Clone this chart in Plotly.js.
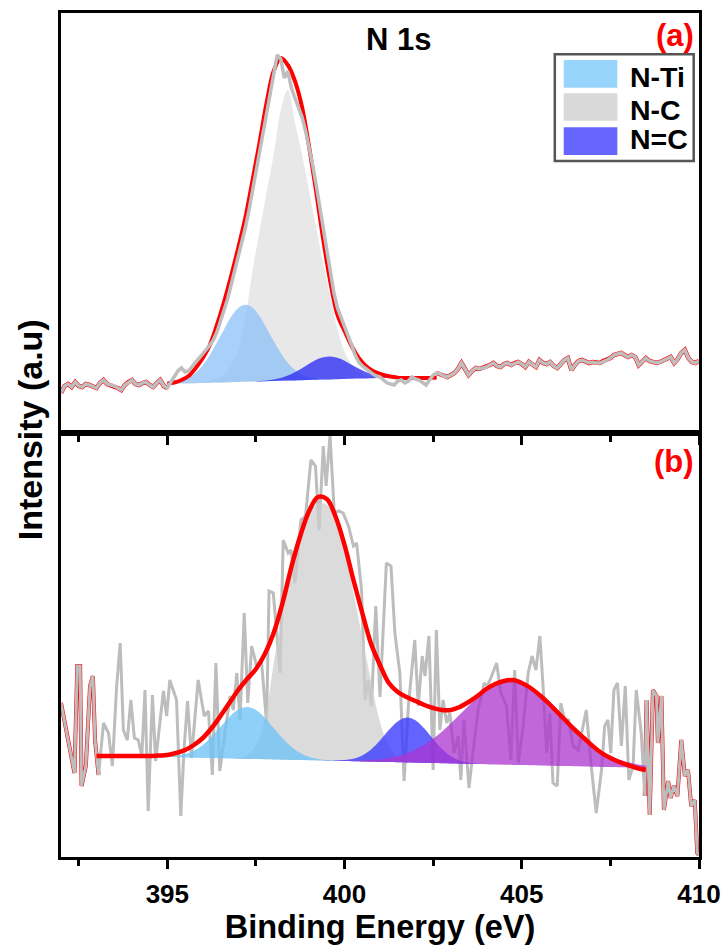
<!DOCTYPE html>
<html>
<head>
<meta charset="utf-8">
<script src="https://cdn.plot.ly/plotly-3.0.1.min.js"></script>
<style>html,body{margin:0;padding:0;background:#fff;}#chart{width:725px;height:945px;}</style>
</head>
<body>
<div id="chart"></div>
<script>
// ---------- Panel (a): raw spectrum, 392.0 .. 410.0 eV, 0.1 eV step ----------
const rawAStart = 392.0;
const rawAStep = 0.1;
const rawA = [
  40,47,49,46,51,47,46,49,48,46,
  45,50,53,49,48,47,45,43,48,51,
  53,49,48,50,51,48,46,50,53,47,
  45,51,56,62,65,61,62,67,71,75,
  79,84,88,93,101,112,122,134,148,162,
  176,190,205,222,242,262,282,302,322,342,
  362,378,374,355,362,345,335,325,316,302,
  286,268,248,226,203,180,158,140,125,116,
  108,98,88,78,71,67,64,61,59,57,
  56,53,50,49,48,52,53,50,52,56,
  54,53,51,48,53,58,60,59,57,56,
  58,60,64,70,64,58,62,65,64,65,
  66,68,70,67,66,69,70,68,70,71,
  69,66,71,68,66,73,70,69,71,67,
  65,69,73,75,63,68,72,73,71,70,
  71,70,70,72,73,75,78,79,80,78,
  76,78,76,68,72,75,72,71,70,71,
  73,75,76,70,74,80,83,75,71,70,
  72
];
// Panel (a) fit grid: 395.0 .. 402.6 eV, 0.2 eV step
const fitAStart = 395.0;
const fitAStep = 0.2;
const baseA = [49.0,49.2,49.4,49.6,49.8,50.0,50.2,50.4,50.6,50.8,51.0,51.2,51.4,51.6,51.8,52.0,52.2,52.4,52.6,52.8,53.0,53.2,53.4,53.6,53.8,54.0,54.2,54.4,54.6,54.8,55.0,55.2,55.4,55.6,55.8,56.0,56.2,56.4,56.6];
const envA = [49.5,50.5,53,57,65,75,88,108,131,157,185,215,252,290,330,362,375,368,352,326,286,241,193,151,118,102,87,75,67,62,59,57,56,55,55,55,55,55,55.5];
const nTiA = [0.6,1.3,2.8,5.7,10.4,17.7,27.8,40,53,65.4,74,77,74,65.4,53,40,27.8,17.7,10.4,5.7,2.8,1.3,0.6,0.2,0,0,0,0,0,0,0,0,0,0,0,0,0,0,0];
const nCA = [0,0,0,0,0.5,1,2,4,8,17,32,64,110,150,189,226,270,291,258,226,189,152,116,82,50,27,14,7,3,1.5,0.5,0,0,0,0,0,0,0,0];
const nDblCA = [0,0,0,0,0,0,0,0,0,0,0,0,0,0.3,0.6,1.5,2.8,5,8.2,12,16.2,20,22.4,23,21.4,18.2,14.1,10,6.5,3.8,2,1,0.5,0.2,0,0,0,0,0];

// ---------- Panel (b): raw spectrum ----------
const rawBX = [
  392.0,392.3,392.38,392.46,392.54,392.58,392.7,392.82,392.9,392.96,
  393.06,393.2,393.34,393.45,393.57,393.67,393.76,393.87,393.97,394.07,
  394.18,394.28,394.37,394.46,394.58,394.67,394.79,394.89,394.98,395.07,
  395.26,395.38,395.47,395.57,395.68,395.87,396.04,396.16,396.27,396.37,
  396.48,396.63,396.77,396.86,396.96,397.05,397.17,397.27,397.38,397.52,
  397.66,397.8,397.87,397.99,398.18,398.27,398.41,398.49,398.6,398.77,
  398.9,399.05,399.18,399.28,399.4,399.48,399.59,399.71,399.84,399.96,
  400.11,400.25,400.34,400.48,400.58,400.67,400.76,400.88,401.0,401.18,
  401.31,401.42,401.56,401.68,401.8,401.98,402.08,402.19,402.27,402.38,
  402.5,402.59,402.69,402.78,402.88,402.97,403.09,403.21,403.28,403.37,
  403.51,403.63,403.77,403.94,404.03,404.15,404.29,404.41,404.57,404.69,
  404.8,404.9,405.04,405.18,405.29,405.4,405.51,405.6,405.7,405.79,
  405.88,406.0,406.1,406.21,406.32,406.45,406.59,406.73,406.82,406.96,
  407.1,407.25,407.34,407.43,407.51,407.6,407.7,407.81,407.92,408.02,
  408.14,408.23,408.37,408.47,408.52,408.61,408.7,408.8,408.84,408.94,
  409.01,409.13,409.2,409.29,409.39,409.5,409.6,409.69,409.78,409.88,
  409.95,410.0
];
const rawBY = [
  154,97,84,191,191,71,91,171,181,117,
  82,134,124,91,171,214,127,117,157,119,
  117,101,167,46,162,96,137,166,141,177,
  157,41,107,156,99,177,141,146,82,194,
  86,127,161,147,184,137,244,154,211,191,
  194,134,266,264,184,317,304,307,274,337,
  341,397,391,327,411,371,422,344,346,344,
  331,311,314,267,157,177,151,251,160,294,
  291,224,184,76,151,217,151,201,181,221,
  87,227,127,157,134,144,104,121,77,137,
  69,107,147,174,171,181,194,164,151,97,
  187,94,131,184,201,187,221,171,104,144,
  74,71,154,137,137,111,107,131,147,91,
  44,87,131,137,104,167,174,111,171,77,
  91,167,124,61,157,42,167,161,114,161,
  47,76,59,71,61,117,81,87,51,57,
  4,2
];
// Panel (b) fit grid: 393.0 .. 408.5 eV, 0.25 eV step
const fitBStart = 393.0;
const fitBStep = 0.25;
const baseB = [101.5,101.3,101.1,100.9,100.7,100.5,100.3,100.1,99.9,99.7,99.5,99.3,99.1,98.9,98.7,98.5,98.3,98.1,97.9,97.7,97.5,97.3,97.1,96.9,96.7,96.5,96.3,96.1,95.9,95.7,95.5,95.3,95.1,94.9,94.7,94.5,94.3,94.1,93.9,93.7,93.5,93.3,93.1,92.9,92.7,92.5,92.3,92.1,91.9,91.7,91.5,91.3,91.1,90.9,90.7,90.5,90.3,90.1,89.9,89.7,89.5,89.3,89.1];
const envB = [101,101,101,101,101,101,101,101.5,102,104,107,112,119,129,141,154,167,178,188,203,224,254,290,321,346,360,358,340,312,277,244,213,192,174,165,160,156,152,149,147,147,150,155,161,168,173,176,177,174,169,162,154,145,136,127,119,111,104,99,95,92,89,87];
const nTiB = [0,0,0,0,0,0,0.1,0.3,0.6,1.5,3.4,7,13,21.4,31.5,41.6,49.2,52,49.2,41.6,31.5,21.4,13,7,3.4,1.5,0.6,0.2,0,0,0,0,0,0,0,0,0,0,0,0,0,0,0,0,0,0,0,0,0,0,0,0,0,0,0,0,0,0,0,0,0,0,0];
const nCB = [0,0,0,0,0,0,0,0,0,0,0,0,0,0,0,0,1,4,14,40,96,148,196,232,250,257,256,243,212,168,124,80,40,16,5,1,0,0,0,0,0,0,0,0,0,0,0,0,0,0,0,0,0,0,0,0,0,0,0,0,0,0,0];
const nDblCB = [0,0,0,0,0,0,0,0,0,0,0,0,0,0,0,0,0,0,0,0,0,0,0,0,0,0,0.1,0.3,1,2.6,6.1,12.3,21.4,32,40.9,45,42.4,34.4,23.9,14.3,7.3,3.2,1.2,0.4,0.1,0,0,0,0,0,0,0,0,0,0,0,0,0,0,0,0,0,0];
const extraB = [0,0,0,0,0,0,0,0,0,0,0,0,0,0,0,0,0,0,0,0,0,0,0,0,0,0,0,0,0.3,0.5,0.9,1.6,2.6,4,6.2,9.1,13.1,18.2,24.4,31.8,40.2,49.1,58.2,66.7,74.1,79.8,83.1,84,82.1,77.8,71.4,63.4,54.6,45.5,36.7,28.8,21.8,16,11.4,7.8,5.2,3.4,2.1];

const legendNames = ['N-Ti', 'N-C', 'N=C'];
const legendColors = ['#97D5FD', '#D9D9D9', '#6666FF'];

// ---------- build traces ----------
const FONT = 'Liberation Sans, Arial, sans-serif';
const add = (a, b) => a.map((v, i) => v + b[i]);
const traces = [];

function comp(base, c, x0, dx, xa, ya, color) {
  traces.push({x0: x0, dx: dx, y: base, xaxis: xa, yaxis: ya, mode: 'lines', line: {width: 0, shape: 'spline'}, hoverinfo: 'skip', showlegend: false});
  traces.push({x0: x0, dx: dx, y: add(base, c), xaxis: xa, yaxis: ya, mode: 'lines', line: {width: 0, shape: 'spline'}, fill: 'tonexty', fillcolor: color, showlegend: false});
}

// Panel (a)
comp(baseA, nCA, fitAStart, fitAStep, 'x2', 'y2', 'rgba(222,222,222,0.7)');
comp(baseA, nTiA, fitAStart, fitAStep, 'x2', 'y2', 'rgba(140,192,246,0.75)');
comp(baseA, nDblCA, fitAStart, fitAStep, 'x2', 'y2', 'rgba(45,45,245,0.78)');
const iA0 = Math.round((fitAStart - rawAStart) / rawAStep);
const iA1 = Math.round((fitAStart + fitAStep * (envA.length - 1) - rawAStart) / rawAStep);
traces.push({x0: rawAStart, dx: rawAStep, y: rawA.slice(0, iA0 + 1), xaxis: 'x2', yaxis: 'y2', mode: 'lines', line: {color: '#FF0000', width: 4.5}, showlegend: false});
traces.push({x0: rawAStart + iA1 * rawAStep, dx: rawAStep, y: rawA.slice(iA1), xaxis: 'x2', yaxis: 'y2', mode: 'lines', line: {color: '#FF0000', width: 4.5}, showlegend: false});
traces.push({x0: fitAStart, dx: fitAStep, y: envA, xaxis: 'x2', yaxis: 'y2', mode: 'lines', line: {color: '#FF0000', width: 4, shape: 'spline'}, showlegend: false});
traces.push({x0: rawAStart, dx: rawAStep, y: rawA, xaxis: 'x2', yaxis: 'y2', mode: 'lines', line: {color: '#BEBEBE', width: 3.5}, showlegend: false});

// Panel (b)
const fitBEnd = fitBStart + fitBStep * (envB.length - 1);
const leftIdx = rawBX.map((v, i) => i).filter(i => rawBX[i] <= fitBStart + 0.07);
const rightIdx = rawBX.map((v, i) => i).filter(i => rawBX[i] >= fitBEnd - 0.04);
traces.push({x: leftIdx.map(i => rawBX[i]), y: leftIdx.map(i => rawBY[i]), mode: 'lines', line: {color: '#FF0000', width: 4}, showlegend: false});
traces.push({x: rightIdx.map(i => rawBX[i]), y: rightIdx.map(i => rawBY[i]), mode: 'lines', line: {color: '#FF0000', width: 4}, showlegend: false});
traces.push({x: rawBX, y: rawBY, mode: 'lines', line: {color: '#BDBDBD', width: 3}, showlegend: false});
comp(baseB, nCB, fitBStart, fitBStep, 'x', 'y', 'rgba(205,205,205,0.72)');
comp(baseB, nTiB, fitBStart, fitBStep, 'x', 'y', 'rgba(110,195,245,0.78)');
comp(baseB, nDblCB, fitBStart, fitBStep, 'x', 'y', 'rgba(55,55,255,0.78)');
comp(baseB, extraB, fitBStart, fitBStep, 'x', 'y', 'rgba(172,52,208,0.75)');
traces.push({x0: fitBStart, dx: fitBStep, y: envB, mode: 'lines', line: {color: '#FF0000', width: 4.5, shape: 'spline'}, showlegend: false});

// ---------- layout ----------
const xCommon = {
  range: [392, 410], showline: true, linewidth: 3, linecolor: '#000', mirror: true,
  ticks: 'outside', ticklen: 9, tickwidth: 3, tickcolor: '#000', tick0: 395, dtick: 5,
  minor: {ticks: 'outside', ticklen: 6, tickwidth: 3, tickcolor: '#000', tick0: 392.5, dtick: 2.5},
  showgrid: false, zeroline: false
};
const yCommon = {
  showline: true, linewidth: 3, linecolor: '#000', mirror: true, ticks: '',
  showticklabels: false, showgrid: false, zeroline: false, fixedrange: true
};
const split = 424 / 844;

const shapes = [{type: 'rect', xref: 'paper', yref: 'paper', x0: 0.774, x1: 0.9917, y0: 0.8246, y1: 0.951, line: {color: '#555555', width: 2.5}, fillcolor: 'rgba(255,255,255,0)'}];
const swY = [[0.9115, 0.9443], [0.8724, 0.9049], [0.8318, 0.8646]];
const txtY = [0.924, 0.885, 0.851];
const annotations = [
  {text: 'N 1s', xref: 'paper', yref: 'paper', x: 0.529, y: 0.969, showarrow: false, xanchor: 'center', yanchor: 'middle', font: {family: FONT, size: 31, color: '#000', weight: 'bold'}},
  {text: '(a)', xref: 'paper', yref: 'paper', x: 0.996, y: 0.973, showarrow: false, xanchor: 'right', yanchor: 'middle', font: {family: FONT, size: 31, color: '#FF0000', weight: 'bold'}},
  {text: '(b)', xref: 'paper', yref: 'paper', x: 0.996, y: 0.469, showarrow: false, xanchor: 'right', yanchor: 'middle', font: {family: FONT, size: 31, color: '#FF0000', weight: 'bold'}},
  {text: 'Intensity (a.u)', xref: 'paper', yref: 'paper', x: -0.048, y: 0.506, showarrow: false, textangle: -90, xanchor: 'center', yanchor: 'middle', font: {family: FONT, size: 34, color: '#000', weight: 'bold'}}
];
legendNames.forEach((name, i) => {
  shapes.push({type: 'rect', xref: 'paper', yref: 'paper', x0: 0.788, x1: 0.872, y0: swY[i][0], y1: swY[i][1], line: {width: 0}, fillcolor: legendColors[i]});
  annotations.push({text: name, xref: 'paper', yref: 'paper', x: 0.889, y: txtY[i], showarrow: false, xanchor: 'left', yanchor: 'middle', font: {family: FONT, size: 28.5, color: '#000', weight: 'bold'}});
});

const layout = {
  width: 725, height: 945,
  margin: {l: 61, r: 26, t: 13, b: 88},
  paper_bgcolor: '#fff', plot_bgcolor: '#fff',
  showlegend: false,
  xaxis: Object.assign({}, xCommon, {anchor: 'y', domain: [0, 1],
    tickfont: {family: FONT, size: 26, color: '#000', weight: 'bold'}, ticklabelstandoff: 3,
    title: {text: 'Binding Energy (eV)', font: {family: FONT, size: 32.5, color: '#000', weight: 'bold'}, standoff: 4}}),
  xaxis2: Object.assign({}, xCommon, {anchor: 'y2', matches: 'x', domain: [0, 1], showticklabels: false}),
  yaxis: Object.assign({}, yCommon, {domain: [0, split], range: [0, 424]}),
  yaxis2: Object.assign({}, yCommon, {domain: [split, 1], range: [0, 420]}),
  shapes: shapes,
  annotations: annotations
};

Plotly.newPlot('chart', traces, layout, {displayModeBar: false, staticPlot: true});
</script>
</body>
</html>
